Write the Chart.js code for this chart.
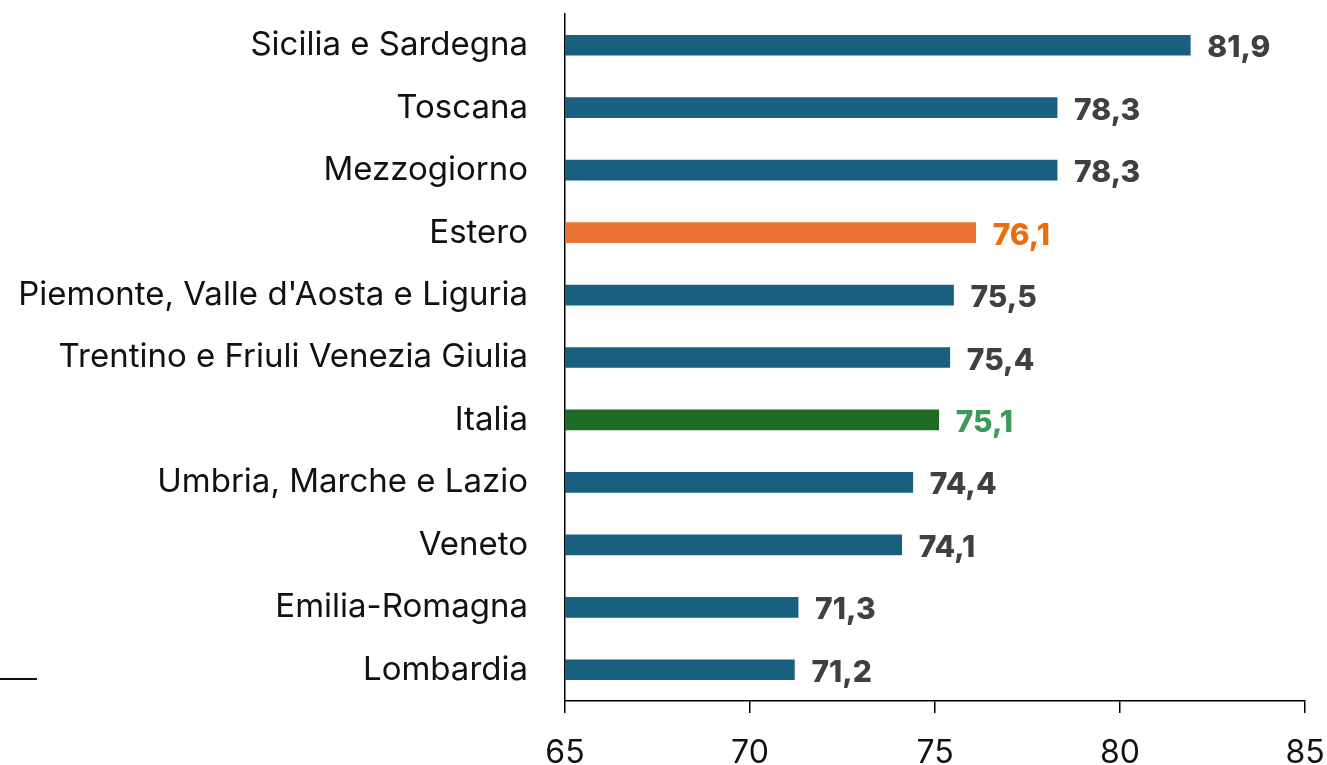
<!DOCTYPE html>
<html>
<head>
<meta charset="utf-8">
<script src="https://cdn.jsdelivr.net/npm/chart.js@4"></script>
<style>
  html, body { margin: 0; padding: 0; background: #fff; }
  #wrap { width: 1327px; height: 765px; }
</style>
</head>
<body>
<div id="wrap"><canvas id="chart" width="1327" height="765"></canvas></div>
<script>
// --- Data ---
const regions = [
    'Sicilia e Sardegna',
    'Toscana',
    'Mezzogiorno',
    'Estero',
    "Piemonte, Valle d'Aosta e Liguria",
    'Trentino e Friuli Venezia Giulia',
    'Italia',
    'Umbria, Marche e Lazio',
    'Veneto',
    'Emilia-Romagna',
    'Lombardia'
];
const values = [81.9, 78.3, 78.3, 76.1, 75.5, 75.4, 75.1, 74.4, 74.1, 71.3, 71.2];
const xTicks = [65, 70, 75, 80, 85];

// --- Colours ---
const BLUE = '#185f80';
const ORANGE = '#e87333';
const GREEN = '#1e6b24';
const barColors = regions.map(r => r === 'Estero' ? ORANGE : (r === 'Italia' ? GREEN : BLUE));
const labelColors = regions.map(r => r === 'Estero' ? '#ee6c0c' : (r === 'Italia' ? '#3f9a5a' : '#404040'));

const FONT = 'Inter, "Noto Sans", sans-serif';

// value labels next to the bars
const valueLabels = {
    id: 'valueLabels',
    afterDatasetsDraw(chart) {
        const ctx = chart.ctx;
        const meta = chart.getDatasetMeta(0);
        ctx.save();
        ctx.font = '800 30px ' + FONT;
        ctx.textBaseline = 'middle';
        ctx.textAlign = 'left';
        meta.data.forEach((bar, i) => {
            ctx.fillStyle = labelColors[i];
            ctx.fillText(values[i].toFixed(1).replace('.', ','), bar.x + 17, bar.y + 3);
        });
        ctx.restore();
    }
};

// small stray legend stroke at bottom left of the original
const strayMark = {
    id: 'strayMark',
    afterDraw(chart) {
        const ctx = chart.ctx;
        ctx.save();
        ctx.strokeStyle = '#111';
        ctx.lineWidth = 2;
        ctx.beginPath();
        ctx.moveTo(0, 679);
        ctx.lineTo(37, 679);
        ctx.stroke();
        ctx.restore();
    }
};

// no extra room for overhanging tick labels, the layout padding decides
function noOverhang(scale) {
    scale.paddingTop = 0;
    scale.paddingBottom = 0;
    scale.paddingLeft = 0;
    scale.paddingRight = 0;
}

new Chart(document.getElementById('chart').getContext('2d'), {
    type: 'bar',
    data: {
        labels: regions,
        datasets: [{
            data: values,
            backgroundColor: barColors,
            borderWidth: 0,
            barThickness: 20
        }]
    },
    options: {
        indexAxis: 'y',
        responsive: false,
        animation: false,
        layout: { padding: { top: 14, right: 22, left: 0, bottom: 0 } },
        plugins: {
            legend: { display: false },
            tooltip: { enabled: false }
        },
        scales: {
            x: {
                min: 65,
                max: 85,
                afterBuildTicks(scale) {
                    scale.ticks = xTicks.map(v => ({ value: v }));
                },
                afterFit(scale) {
                    scale.height = 64;
                    noOverhang(scale);
                },
                grid: {
                    drawOnChartArea: false,
                    drawTicks: true,
                    tickLength: 12,
                    color: '#000',
                    lineWidth: 1.5
                },
                border: { display: true, color: '#000', width: 1.5 },
                ticks: {
                    color: '#111',
                    padding: 21,
                    maxRotation: 0,
                    font: { family: FONT, size: 32 }
                }
            },
            y: {
                afterFit(scale) {
                    scale.width = 565;
                    noOverhang(scale);
                },
                grid: { display: false },
                border: { display: true, color: '#000', width: 1.5 },
                ticks: {
                    color: '#111',
                    padding: 29,
                    font: { family: FONT, size: 33 }
                }
            }
        }
    },
    plugins: [valueLabels, strayMark]
});
</script>
</body>
</html>
